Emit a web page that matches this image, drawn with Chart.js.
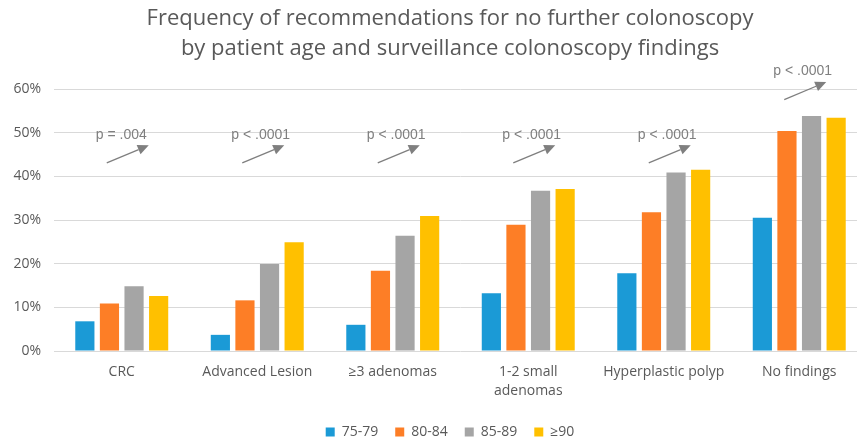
<!DOCTYPE html>
<html>
<head>
<meta charset="utf-8">
<script src="https://cdn.jsdelivr.net/npm/chart.js@4"></script>
<style>
  html, body { margin: 0; padding: 0; background: #fff; overflow: hidden; }
  #wrap { position: relative; width: 900px; height: 442px; }
</style>
</head>
<body>
<div id="wrap"><canvas id="chart"></canvas></div>
<script>
const findings = ['CRC', 'Advanced Lesion', '≥3 adenomas', ['1-2 small', 'adenomas'], 'Hyperplastic polyp', 'No findings'];
const ageGroups = ['75-79', '80-84', '85-89', '≥90'];
const age75to79 = [6.8, 3.7, 6.0, 13.2, 17.8, 30.5];
const age80to84 = [10.9, 11.6, 18.4, 28.9, 31.8, 50.4];
const age85to89 = [14.8, 19.9, 26.4, 36.7, 40.9, 53.8];
const age90plus = [12.6, 24.9, 30.9, 37.1, 41.5, 53.4];
const pValues = ['p = .004', 'p < .0001', 'p < .0001', 'p < .0001', 'p < .0001', 'p < .0001'];
const yTicks = [0, 10, 20, 30, 40, 50, 60];

const series = [age75to79, age80to84, age85to89, age90plus];
const colors = ['#1b9ad6', '#fd7e26', '#a5a5a5', '#ffc000'];
const grey = '#595959';

// p-value label + trend arrow above each group
const trendArrows = {
    id: 'trendArrows',
    afterDatasetsDraw(chart) {
        const {ctx, scales: {x, y}} = chart;
        ctx.save();
        ctx.font = '14px "Liberation Sans", Arial, sans-serif';
        ctx.fillStyle = '#7f7f7f';
        ctx.strokeStyle = '#7f7f7f';
        ctx.textBaseline = 'middle';
        pValues.forEach((txt, i) => {
            const top = Math.max(...series.map(s => s[i]));
            // groups that reach the usual label line get it lifted above their bars
            const level = top > 49.5 ? top + 10.2 : 49.5;
            const cx = x.getPixelForValue(i);
            const ty = y.getPixelForValue(level);
            ctx.fillText(txt, cx - 26, ty);

            const x0 = cx - 15, y0 = ty + 28, x1 = cx + 27, y1 = ty + 10.5;
            const a = Math.atan2(y1 - y0, x1 - x0);
            const head = 11, half = 5;
            const bx = x1 - head * Math.cos(a), by = y1 - head * Math.sin(a);
            ctx.lineWidth = 1.3;
            ctx.beginPath();
            ctx.moveTo(x0, y0);
            ctx.lineTo(bx, by);
            ctx.stroke();
            ctx.beginPath();
            ctx.moveTo(x1, y1);
            ctx.lineTo(bx + half * Math.sin(a), by - half * Math.cos(a));
            ctx.lineTo(bx - half * Math.sin(a), by + half * Math.cos(a));
            ctx.closePath();
            ctx.fill();
        });
        ctx.restore();
    }
};

new Chart(document.getElementById('chart'), {
    type: 'bar',
    data: {
        labels: findings,
        datasets: series.map((data, i) => ({
            label: ageGroups[i],
            data: data,
            backgroundColor: colors[i],
            borderWidth: 0,
            barPercentage: 0.78,
            categoryPercentage: 0.726,
        })),
    },
    options: {
        responsive: true,
        maintainAspectRatio: false,
        animation: false,
        layout: { padding: { bottom: -7 } },
        plugins: {
            title: {
                display: true,
                text: ['Frequency of recommendations for no further colonoscopy', 'by patient age and surveillance colonoscopy findings'],
                color: grey,
                font: { family: '"Open Sans", sans-serif', size: 22, weight: 'normal', lineHeight: '30px' },
                padding: { top: 4, bottom: 25 },
            },
            legend: {
                position: 'bottom',
                labels: {
                    color: grey,
                    font: { family: '"Open Sans", sans-serif', size: 14 },
                    boxWidth: 9,
                    boxHeight: 9,
                    padding: 17,
                },
            },
            tooltip: { enabled: false },
        },
        scales: {
            x: {
                grid: { display: false, drawTicks: false },
                border: { display: false },
                ticks: {
                    color: grey,
                    font: { family: '"Open Sans", sans-serif', size: 14, lineHeight: 1.4 },
                    padding: 11,
                    maxRotation: 0,
                    autoSkip: false,
                },
                afterFit: axis => { axis.height = 57; },
            },
            y: {
                min: 0,
                max: 60,
                afterBuildTicks: axis => { axis.ticks = yTicks.map(v => ({ value: v })); },
                grid: { color: '#d9d9d9', lineWidth: 1, drawTicks: false },
                border: { display: false },
                ticks: {
                    color: grey,
                    font: { family: '"Open Sans", sans-serif', size: 14 },
                    padding: 13,
                    callback: v => v + '%',
                },
                afterFit: axis => { axis.width = 54; },
            },
            yRight: {
                position: 'right',
                grid: { display: false, drawTicks: false },
                border: { display: false },
                ticks: { display: false },
                afterFit: axis => { axis.width = 33; },
            },
        },
    },
    plugins: [trendArrows],
});
</script>
</body>
</html>
